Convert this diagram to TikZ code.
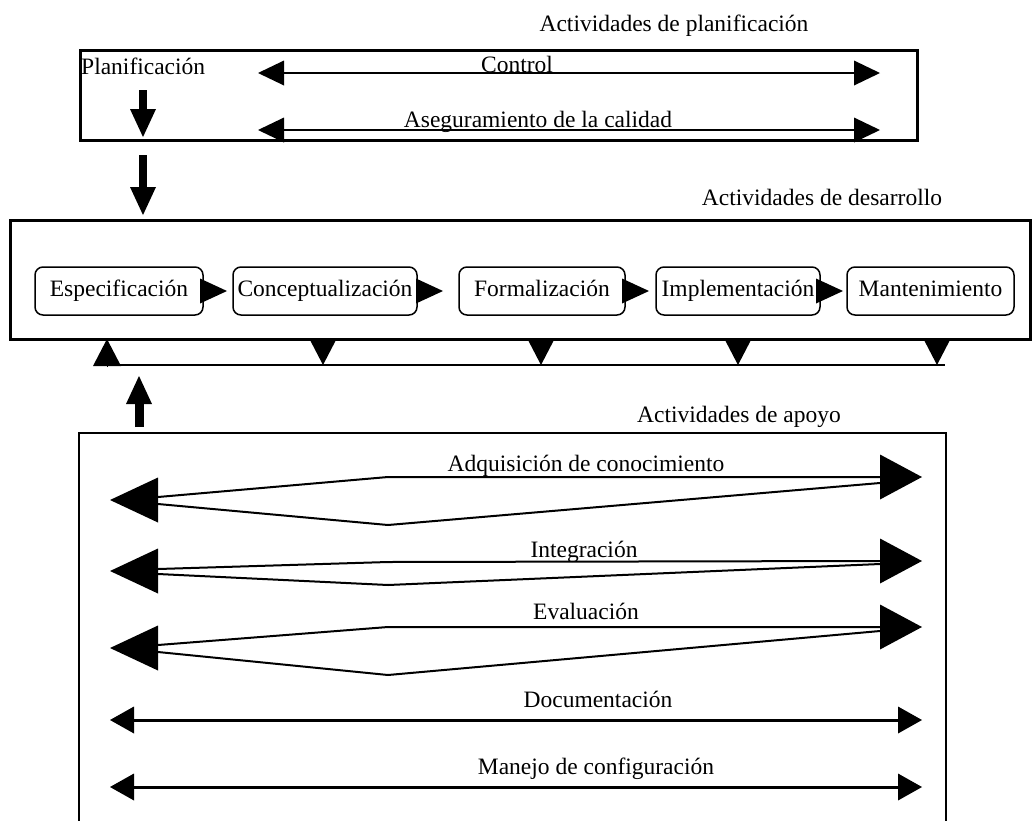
\documentclass[tikz,border=0pt]{standalone}
\usepackage{fontspec}
\setmainfont{Liberation Serif}
\usetikzlibrary{arrows.meta,calc}
\begin{document}
\begin{tikzpicture}[x=1pt,y=-1pt,
  every node/.style={font=\fontsize{23.5}{28}\selectfont},
  frame/.style={draw,line width=3pt,inner sep=0pt,outer sep=0pt,anchor=north west},
  stage/.style={draw,line width=1.5pt,rounded corners=8pt,inner sep=0pt,outer sep=0pt,
    minimum height=48pt,text height=16pt,text depth=5pt},
  lbl/.style={anchor=base,inner sep=0pt},
  flowarrow/.style={line width=0.2pt,-{Triangle[length=27pt,width=25pt,line width=0pt]}},
  droptri/.style={line width=0.2pt,-{Triangle[length=26pt,width=27pt,line width=0pt]}},
  heavyarrow/.style={line width=8pt,-{Triangle[length=28pt,width=26pt,line width=0pt]}},
  spanarrow/.style={line width=2pt,
    {Triangle[length=26pt,width=25pt,line width=0pt]}-{Triangle[length=26pt,width=25pt,line width=0pt]}},
  widearrow/.style={line width=3pt,
    {Triangle[length=24pt,width=27pt,line width=0pt]}-{Triangle[length=24pt,width=27pt,line width=0pt]}},
  wireline/.style={line width=2pt},
  lhead/.style={line width=0.2pt,-{Triangle[length=48pt,width=45pt,line width=0pt]}},
  rhead/.style={line width=0.2pt,-{Triangle[length=42pt,width=45pt,line width=0pt]}},
]
\useasboundingbox (0,0) rectangle (1034,820);

% ---------- planning activities ----------
\node[frame,minimum width=837pt,minimum height=90pt] (plan) at (80,50) {};
\node[lbl] (planT) at (674,31) {Actividades de planificación};
\node[lbl,anchor=base west] (planif) at (81,74) {Planificación};

\coordinate (ctlL) at (258,73);
\coordinate (ctlR) at (880,73);
\draw[spanarrow] (ctlL) -- (ctlR);
\node[lbl] (ctl) at (517,72) {Control};

\coordinate (qaL) at (258,130);
\coordinate (qaR) at (880,130);
\draw[spanarrow] (qaL) -- (qaR);
\node[lbl] (qa) at (538,127) {Aseguramiento de la calidad};

\coordinate (pA) at (143,90);
\coordinate (pB) at (143,137);
\draw[heavyarrow] (pA) -- (pB);

% ---------- development activities ----------
\node[frame,minimum width=1020pt,minimum height=119pt] (dev) at (10,220) {};
\node[lbl] (devT) at (822,205) {Actividades de desarrollo};
\draw[heavyarrow,shorten <=15pt,shorten >=5pt] (plan.south -| pA) -- (dev.north -| pA);

\node[stage,minimum width=168pt] (esp) at (119,291) {Especificación};
\node[stage,minimum width=184pt] (con) at (325,291) {Conceptualización};
\node[stage,minimum width=166pt] (frm) at (542,291) {Formalización};
\node[stage,minimum width=164pt] (imp) at (738,291) {Implementación};
\node[stage,minimum width=167pt] (man) at (930.5,291) {Mantenimiento};

\draw[flowarrow,shorten <=-3pt,shorten >=6pt] (esp) -- (con);
\draw[flowarrow,shorten <=-3pt,shorten >=16pt] (con) -- (frm);
\draw[flowarrow,shorten <=-3pt,shorten >=7pt] (frm) -- (imp);
\draw[flowarrow,shorten <=-3pt,shorten >=4pt] (imp) -- (man);

% feedback bus under the development box
\coordinate (busL) at (107,365);
\coordinate (busR) at (945,365);
\draw[wireline] (busL) -- (busR);
\foreach \x/\n in {323/b1,541/b2,738/b3,937/b4}{
  \coordinate (\n) at (\x,365);
  \draw[droptri] (\n |- dev.south) -- (\n);
}
\draw[line width=0.2pt,-{Triangle[length=27pt,width=28pt,line width=0pt]}]
  ($(busL)+(0,2)$) -- (busL |- dev.south);

% ---------- support activities ----------
\node[frame,line width=2.5pt,minimum width=867pt,minimum height=420pt] (sup) at (79,433) {};
\node[lbl] (supT) at (739,422) {Actividades de apoyo};
\coordinate (sA) at (139,427);
\draw[heavyarrow,line width=9pt,shorten <=6pt,shorten >=37pt] (sup.north -| sA) -- (dev.south -| sA);

% knowledge acquisition
\coordinate (adqL) at (110,500);
\coordinate (adqR) at (922,477);
\draw[lhead] ($(adqL)+(48,0)$) -- (adqL);
\draw[rhead] ($(adqR)+(-42,0)$) -- (adqR);
\draw[wireline] ($(adqL)+(48,-3)$) -- (388,477) -- ($(adqR)+(-42,0)$);
\draw[wireline] ($(adqL)+(48,4)$) -- (388,525) -- ($(adqR)+(-42,6)$);
\node[lbl] (adq) at (586,471) {Adquisición de conocimiento};

% integration
\coordinate (intL) at (110,571);
\coordinate (intR) at (922,561);
\draw[lhead] ($(intL)+(48,0)$) -- (intL);
\draw[rhead] ($(intR)+(-42,0)$) -- (intR);
\draw[wireline] ($(intL)+(48,-2)$) -- (388,562) -- ($(intR)+(-42,0)$);
\draw[wireline] ($(intL)+(48,3)$) -- (388,585) -- ($(intR)+(-42,3)$);
\node[lbl] (int) at (584,557) {Integración};

% evaluation
\coordinate (evaL) at (110,648);
\coordinate (evaR) at (922,627);
\draw[lhead] ($(evaL)+(48,0)$) -- (evaL);
\draw[rhead] ($(evaR)+(-42,0)$) -- (evaR);
\draw[wireline] ($(evaL)+(48,-3)$) -- (388,627) -- ($(evaR)+(-42,0)$);
\draw[wireline] ($(evaL)+(48,4)$) -- (388,675) -- ($(evaR)+(-42,4)$);
\node[lbl] (eva) at (586,619) {Evaluación};

% documentation and configuration management
\coordinate (docL) at (110,720);
\coordinate (docR) at (922,720);
\draw[widearrow] (docL) -- (docR);
\node[lbl] (doc) at (598,707) {Documentación};

\coordinate (cfgL) at (110,787);
\coordinate (cfgR) at (922,787);
\draw[widearrow] (cfgL) -- (cfgR);
\node[lbl] (cfg) at (596,774) {Manejo de configuración};
\end{tikzpicture}
\end{document}
